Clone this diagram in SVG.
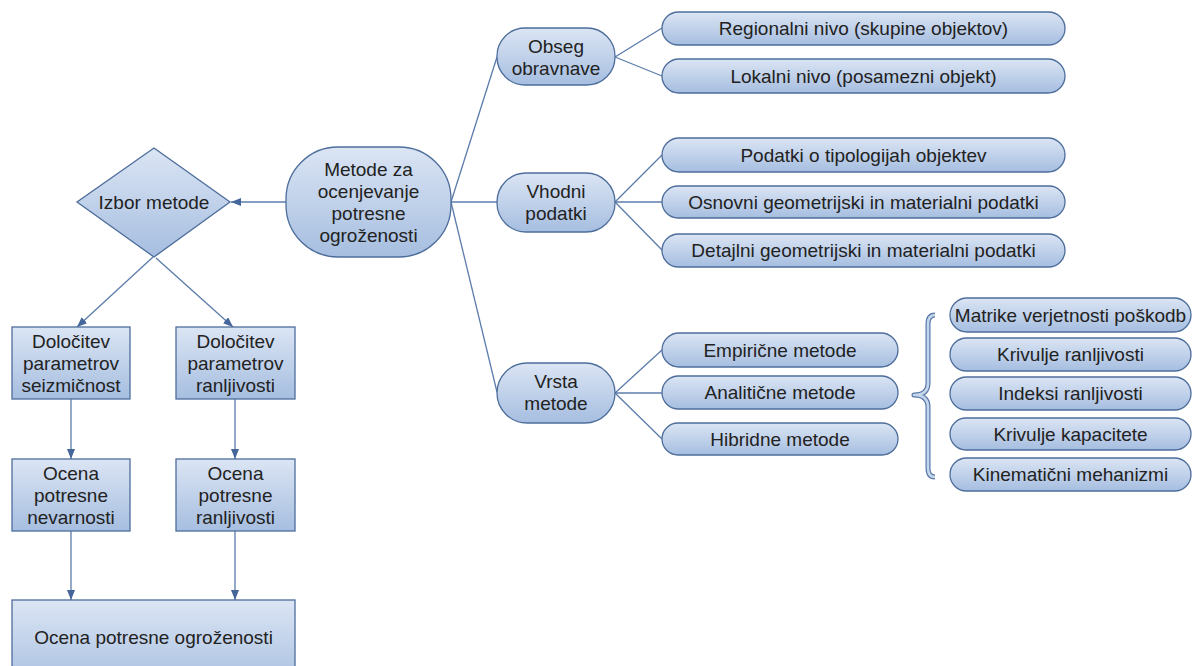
<svg xmlns="http://www.w3.org/2000/svg" width="1194" height="666" viewBox="0 0 1194 666">
<defs>
<linearGradient id="g" x1="0" y1="0" x2="0" y2="1">
<stop offset="0" stop-color="#dbe5f4"/>
<stop offset="1" stop-color="#a6bee0"/>
</linearGradient>
<marker id="ah" viewBox="0 0 10 8" refX="10" refY="4" markerWidth="10" markerHeight="8" markerUnits="userSpaceOnUse" orient="auto">
<path d="M0,0 L10,4 L0,8 Z" fill="#44669a"/>
</marker>
<style>
.n{fill:url(#g);stroke:#4d6d9b;stroke-width:1.3}
.t{font-family:"Liberation Sans",Arial,sans-serif;font-size:19px;fill:#222;text-anchor:middle}
.c{stroke:#5b7cab;stroke-width:1.3;fill:none}
.a{stroke:#5b7cab;stroke-width:1.3;fill:none;marker-end:url(#ah)}
</style>
</defs>
<rect width="1194" height="666" fill="#fff"/>

<g id="connectors">
<line class="a" x1="286" y1="202" x2="231" y2="202"/>
<line class="a" x1="153" y1="257" x2="77" y2="327"/>
<line class="a" x1="156" y1="258" x2="233" y2="327"/>
<line class="a" x1="71" y1="399" x2="71" y2="459"/>
<line class="a" x1="235" y1="399" x2="235" y2="459"/>
<line class="a" x1="71" y1="531" x2="71" y2="600"/>
<line class="a" x1="235" y1="531" x2="235" y2="600"/>
<line class="c" x1="451" y1="202" x2="497" y2="57"/>
<line class="c" x1="451" y1="202" x2="497" y2="202"/>
<line class="c" x1="451" y1="202" x2="497" y2="392"/>
<line class="c" x1="615" y1="57" x2="662" y2="28"/>
<line class="c" x1="615" y1="57" x2="662" y2="76"/>
<line class="c" x1="615" y1="202" x2="662" y2="155"/>
<line class="c" x1="615" y1="202" x2="662" y2="202"/>
<line class="c" x1="615" y1="202" x2="662" y2="250"/>
<line class="c" x1="615" y1="393" x2="662" y2="350"/>
<line class="c" x1="615" y1="393" x2="662" y2="393"/>
<line class="c" x1="615" y1="393" x2="662" y2="439"/>
</g>

<g id="main">
<rect class="n" x="286" y="147" width="165" height="110" rx="52" ry="52"/>
<text class="t" x="368.5" y="176">Metode za</text>
<text class="t" x="368.5" y="198">ocenjevanje</text>
<text class="t" x="368.5" y="220">potresne</text>
<text class="t" x="368.5" y="242">ogroženosti</text>
</g>

<g id="izbor">
<polygon class="n" points="154,148 230,202 154,257 77,202"/>
<text class="t" x="154" y="209">Izbor metode</text>
</g>

<g id="dolocitev-seizm">
<rect class="n" x="12" y="327" width="118" height="72"/>
<text class="t" x="71" y="348">Določitev</text>
<text class="t" x="71" y="370">parametrov</text>
<text class="t" x="71" y="392">seizmičnost</text>
</g>
<g id="dolocitev-ranlj">
<rect class="n" x="176" y="327" width="119" height="72"/>
<text class="t" x="235.5" y="348">Določitev</text>
<text class="t" x="235.5" y="370">parametrov</text>
<text class="t" x="235.5" y="392">ranljivosti</text>
</g>
<g id="ocena-nevar">
<rect class="n" x="12" y="459" width="118" height="72"/>
<text class="t" x="71" y="480">Ocena</text>
<text class="t" x="71" y="502">potresne</text>
<text class="t" x="71" y="524">nevarnosti</text>
</g>
<g id="ocena-ranlj">
<rect class="n" x="176" y="459" width="119" height="72"/>
<text class="t" x="235.5" y="480">Ocena</text>
<text class="t" x="235.5" y="502">potresne</text>
<text class="t" x="235.5" y="524">ranljivosti</text>
</g>
<g id="ocena-ogroz">
<rect class="n" x="12" y="600" width="283" height="90"/>
<text class="t" x="153.5" y="644">Ocena potresne ogroženosti</text>
</g>

<g id="obseg">
<rect class="n" x="497" y="28" width="118" height="57" rx="28" ry="28"/>
<text class="t" x="556" y="53">Obseg</text>
<text class="t" x="556" y="75">obravnave</text>
</g>
<g id="vhodni">
<rect class="n" x="497" y="173" width="118" height="59" rx="29" ry="29"/>
<text class="t" x="556" y="198">Vhodni</text>
<text class="t" x="556" y="220">podatki</text>
</g>
<g id="vrsta">
<rect class="n" x="497" y="363" width="118" height="60" rx="30" ry="30"/>
<text class="t" x="556" y="388">Vrsta</text>
<text class="t" x="556" y="410">metode</text>
</g>

<g id="regionalni">
<rect class="n" x="662" y="12" width="403" height="33" rx="16.5" ry="16.5"/>
<text class="t" x="863.5" y="35">Regionalni nivo (skupine objektov)</text>
</g>
<g id="lokalni">
<rect class="n" x="662" y="59" width="403" height="34" rx="17" ry="17"/>
<text class="t" x="863.5" y="83">Lokalni nivo (posamezni objekt)</text>
</g>
<g id="podatki-tip">
<rect class="n" x="662" y="138" width="403" height="34" rx="17" ry="17"/>
<text class="t" x="863.5" y="162">Podatki o tipologijah objektev</text>
</g>
<g id="osnovni">
<rect class="n" x="662" y="186" width="403" height="32" rx="16" ry="16"/>
<text class="t" x="863.5" y="209">Osnovni geometrijski in materialni podatki</text>
</g>
<g id="detajlni">
<rect class="n" x="662" y="234" width="403" height="33" rx="16.5" ry="16.5"/>
<text class="t" x="863.5" y="257">Detajlni geometrijski in materialni podatki</text>
</g>

<g id="empiricne">
<rect class="n" x="662" y="333" width="236" height="34" rx="17" ry="17"/>
<text class="t" x="780" y="357">Empirične metode</text>
</g>
<g id="analiticne">
<rect class="n" x="662" y="376" width="236" height="33" rx="16.5" ry="16.5"/>
<text class="t" x="780" y="399">Analitične metode</text>
</g>
<g id="hibridne">
<rect class="n" x="662" y="423" width="236" height="32" rx="16" ry="16"/>
<text class="t" x="780" y="446">Hibridne metode</text>
</g>

<g id="brace">
<path d="M935,315 Q928,315 928,324 L928,383 Q928,395 914,395 Q928,395 928,407 L928,468 Q928,477 935,477" fill="none" stroke="#5878a8" stroke-width="5" stroke-linejoin="round"/>
<path d="M935,315 Q928,315 928,324 L928,383 Q928,395 914,395 Q928,395 928,407 L928,468 Q928,477 935,477" fill="none" stroke="#c6d6ec" stroke-width="2.6" stroke-linejoin="round"/>
</g>

<g id="matrike">
<rect class="n" x="950" y="298" width="241" height="34" rx="17" ry="17"/>
<text class="t" x="1070.5" y="322">Matrike verjetnosti poškodb</text>
</g>
<g id="krivulje-ranlj">
<rect class="n" x="950" y="338" width="241" height="33" rx="16.5" ry="16.5"/>
<text class="t" x="1070.5" y="361">Krivulje ranljivosti</text>
</g>
<g id="indeksi">
<rect class="n" x="950" y="377" width="241" height="33" rx="16.5" ry="16.5"/>
<text class="t" x="1070.5" y="400">Indeksi ranljivosti</text>
</g>
<g id="krivulje-kap">
<rect class="n" x="950" y="418" width="241" height="32" rx="16" ry="16"/>
<text class="t" x="1070.5" y="441">Krivulje kapacitete</text>
</g>
<g id="kinematicni">
<rect class="n" x="950" y="458" width="241" height="33" rx="16.5" ry="16.5"/>
<text class="t" x="1070.5" y="481">Kinematični mehanizmi</text>
</g>
</svg>
